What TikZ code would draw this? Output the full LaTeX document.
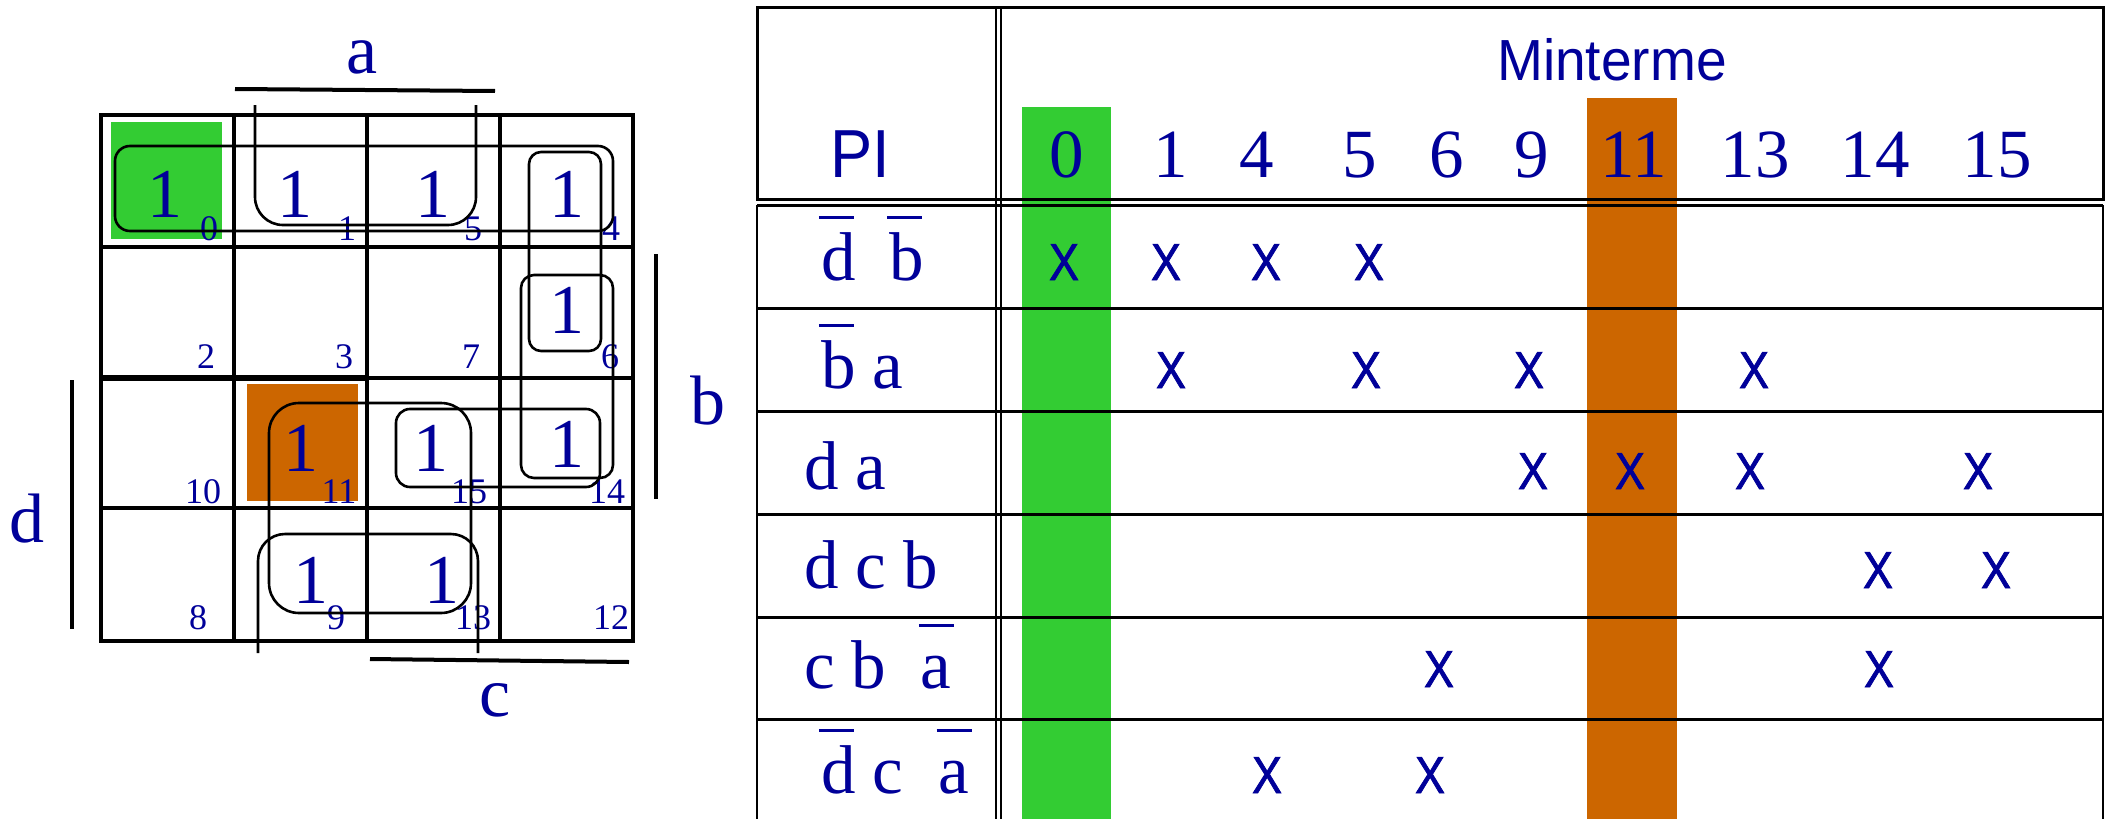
\documentclass[tikz,border=0pt]{standalone}
\usepackage{fontspec}
\setmainfont{Liberation Serif}
\newfontfamily\sansf{Liberation Sans}
\newfontfamily\sansx[FakeBold=1.6]{Liberation Sans}
\definecolor{ink}{RGB}{0,0,153}
\definecolor{mgreen}{RGB}{51,204,51}
\definecolor{morange}{RGB}{204,102,0}
% letter with a bar above it (negated variable)
\newcommand\ovl[1]{\makebox[0pt][l]{\kern-0.03em\rule[0.885em]{0.51em}{0.04em}}#1}
\begin{document}
\begin{tikzpicture}[x=0.5pt,y=-0.5pt,
  every node/.style={inner sep=0pt,outer sep=0pt,text=ink},
  one/.style={font=\fontsize{35}{35}\selectfont,anchor=base},
  idx/.style={font=\fontsize{18}{18}\selectfont,anchor=base},
  varlbl/.style={font=\fontsize{35}{35}\selectfont,anchor=base},
  hdr/.style={font=\fontsize{34.5}{34.5}\selectfont,anchor=base},
  term/.style={font=\fontsize{34.5}{34.5}\selectfont,anchor=base west},
  xm/.style={font=\sansx\fontsize{26}{26}\selectfont,anchor=base,xscale=0.86},
  gridline/.style={line width=2pt},
  kloop/.style={line width=1.3pt},
  varbar/.style={line width=2pt},
  tline/.style={line width=1.5pt},
  vline/.style={line width=1.25pt}]
\useasboundingbox[fill=white] (0,0) rectangle (2109,819);

% ---------------- Karnaugh map ----------------
\fill[mgreen] (111,122) rectangle (222,239);
\fill[morange] (247,384) rectangle (358,501);

\draw[gridline] (101,115) rectangle (633,641);
\foreach \gx in {234,367,500} \draw[gridline] (\gx,115) -- (\gx,641);
\foreach \gy in {247,378,508} \draw[gridline] (101,\gy) -- (633,\gy);
\draw[line width=3.3pt] (101,378) -- (367,378);

% ones in the cells
\foreach \n/\x/\y in {0/165/217,1/295/217,5/433/217,4/567/217,
                      6/567/333,11/301/471,15/431/471,14/567/467,
                      9/311/603,13/442/603}
  \node[one] (one\n) at (\x,\y) {1};

% minterm indices
\foreach \n/\x/\y in {0/209/240,1/347/240,5/473/240,4/611/240,
                      2/206/368,3/344/368,7/471/368,6/610/368,
                      10/203/503,11/339/503,15/469/503,14/607/503,
                      8/198/629,9/336/629,13/473/629,12/611/629}
  \node[idx] (idx\n) at (\x,\y) {\n};

% groupings
\draw[kloop,rounded corners=7.5pt] (115,146) rectangle (613,231);
\draw[kloop,rounded corners=14pt] (255,105) -- (255,225) -- (476,225) -- (476,105);
\draw[kloop,rounded corners=13.5pt] (258,653) -- (258,534) -- (478,534) -- (478,653);
\draw[kloop,rounded corners=15pt] (269,403) rectangle (471,613);
\draw[kloop,rounded corners=7pt] (396,409) rectangle (600,487);
\draw[kloop,rounded corners=6.5pt] (521,275) rectangle (613,478);
\draw[kloop,rounded corners=6pt] (529,152) rectangle (601,351);

% variable labels and their ranges
\node[varlbl] (la) at (362,73) {a};
\node[varlbl] (lb) at (708,424) {b};
\node[varlbl] (lc) at (495,716) {c};
\node[varlbl] (ld) at (27,542) {d};
\draw[varbar] (235,89) -- (495,91);
\draw[varbar] (656,254) -- (656,499);
\draw[varbar] (370,659) -- (629,662);
\draw[varbar] (72,380) -- (72,629);

% ---------------- prime implicant chart ----------------
\fill[mgreen] (1022,107) rectangle (1111,819);
\fill[morange] (1587,98) rectangle (1677,819);

% header box
\draw[tline] (757,7) rectangle (2103,199);
% body
\draw[tline] (757,205) -- (2103,205);
\foreach \ry in {308,411,514,617,719} \draw[tline] (757,\ry) -- (2103,\ry);
\draw[vline] (757,205) -- (757,819);
\draw[vline] (2103,205) -- (2103,819);
\draw[vline] (996,7) -- (996,819);
\draw[vline] (1001,7) -- (1001,819);

\node[font=\sansf\fontsize{29}{29}\selectfont,anchor=base,xscale=0.95] (mt) at (1612,80) {Minterme};
\node[font=\sansf\fontsize{34}{34}\selectfont,anchor=base,xscale=0.93] (pi) at (860,177) {PI};

\foreach \n/\x in {0/1067,1/1171,4/1257,5/1360,6/1447,9/1532,11/1634,13/1755,14/1875,15/1997}
  \node[hdr] (m\n) at (\x,177) {\n};

% prime implicants
\node[term] (t1) at (821,280) {\ovl{d}\hspace{0.49em}\ovl{b}};
\node[term] (t2) at (821,388) {\ovl{b} a};
\node[term] (t3) at (804,489) {d a};
\node[term] (t4) at (804,588) {d c b};
\node[term] (t5) at (804,688) {c b\hspace{0.5em}\ovl{a}};
\node[term] (t6) at (821,793) {\ovl{d} c\hspace{0.51em}\ovl{a}};

% coverage marks
\foreach \r/\c/\x/\y in {1/0/1064/280,1/1/1166/280,1/4/1266/280,1/5/1369/280,
                         2/1/1171/388,2/5/1366/388,2/9/1529/388,2/13/1754/388,
                         3/9/1533/489,3/11/1630/489,3/13/1750/489,3/15/1978/489,
                         4/14/1878/588,4/15/1996/588,
                         5/6/1439/687,5/14/1879/687,
                         6/4/1267/793,6/6/1430/793}
  \node[xm] (x\r-\c) at (\x,\y) {X};
\end{tikzpicture}
\end{document}
